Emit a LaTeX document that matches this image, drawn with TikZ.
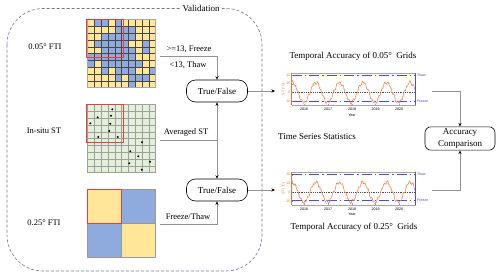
\documentclass[tikz,border=0pt]{standalone}
\usepackage{fontspec}
\setmainfont{Liberation Serif}
\newfontfamily\chartfont{Liberation Sans}
\usepackage{xcolor}
\usepackage{tikz}
\usetikzlibrary{arrows.meta,calc}
\definecolor{ftic0}{HTML}{FFE699}
\definecolor{ftic1}{HTML}{8FAADC}
\definecolor{stgreen}{HTML}{E2F0D9}
\definecolor{boxred}{HTML}{EE3B3B}
\definecolor{framegray}{HTML}{6B7A99}
\definecolor{tsorange}{HTML}{E8743B}
\definecolor{tsblue}{HTML}{4A4AF0}

\begin{document}
\begin{tikzpicture}[x=1pt,y=-1pt,>=Stealth,line join=round,
  font=\fontsize{9}{10}\selectfont,
  tfbox/.style={draw,rounded corners=9pt,minimum width=61pt,minimum height=22pt,inner sep=1pt,line width=0.6pt},
  conn/.style={draw=gray!85,line width=0.6pt,-{Stealth[length=3.5pt,width=3pt,color=black]}},
  lbl/.style={font=\fontsize{8.5}{10}\selectfont},
  tick/.style={font=\chartfont\fontsize{3.6}{4}\selectfont,inner sep=0.5pt},
  refline/.style={tsblue,line width=0.5pt,dash pattern=on 10pt off 3pt on 1.5pt off 3pt}]
  \useasboundingbox (0,0) rectangle (500,277);
  \draw[framegray,line width=0.6pt,dash pattern=on 3pt off 2pt,rounded corners=36pt] (7,8.5) rectangle (262,271);
  \node[fill=white,inner sep=2pt] (VAL) at (201,8.5) {Validation};
  \foreach \row [count=\r from 0] in {{0,1,1,0,1,0,0,0,0,0},{0,0,0,0,1,1,1,0,0,0},{0,0,1,1,1,1,1,0,0,0},{0,1,1,1,1,1,0,0,1,0},{0,0,1,1,1,1,1,0,1,0},{1,1,1,1,1,1,1,0,0,0},{1,0,1,1,1,1,1,1,0,0},{0,0,1,0,1,1,1,0,0,1},{0,0,0,0,1,0,1,1,1,0},{0,0,0,0,0,0,1,0,0,0}}
    \foreach \v [count=\k from 0] in \row
      \fill[ftic\v] (87.5+\k*6.8,19.5+\r*6.8) rectangle ++(6.8,6.8);
  \foreach \i in {0,...,10}
    \draw[gray!55!black,line width=0.35pt] (87.5+\i*6.8,19.5) -- ++(0,68) (87.5,19.5+\i*6.8) -- ++(68,0);
  \draw[gray!70,line width=0.6pt] (87.5,19.5) rectangle ++(68,68);
  \draw[boxred,line width=0.9pt] (86.5,19) rectangle (123,57);
  \fill[stgreen] (87.5,104.5) rectangle ++(68,68);
  \foreach \i in {0,...,10}
    \draw[gray!75,line width=0.4pt] (87.5+\i*6.8,104.5) -- ++(0,68) (87.5,104.5+\i*6.8) -- ++(68,0);
  \foreach \p in {(112.3,109.3),(111,115.7),(97.7,117.3),(90.3,123.3),(110.3,123.7),(109.3,131),(98.3,137),(117.7,137),(142,142.3),(130.3,151.3),(138.3,156.3),(150,161.7),(129.3,163.3),(141.7,169.7)}
    \fill \p circle (1.1pt);
  \draw[boxred,line width=0.9pt] (86.5,104) rectangle (123,142);
  \fill[ftic0] (87.5,189.5) rectangle ++(34,34);
  \fill[ftic1] (121.5,189.5) rectangle ++(34,34);
  \fill[ftic1] (87.5,223.5) rectangle ++(34,34);
  \fill[ftic0] (121.5,223.5) rectangle ++(34,34);
  \draw[gray!80,line width=0.6pt] (87.5,189.5) rectangle ++(68,68) (121.5,189.5) -- ++(0,68) (87.5,223.5) -- ++(68,0);
  \draw[boxred,line width=0.9pt] (87.5,189.5) rectangle ++(34,34);
  \node[lbl] (L1) at (45,47) {0.05° FTI};
  \node[lbl] (L2) at (44,131) {In-situ ST};
  \node[lbl] (L3) at (44,223) {0.25° FTI};
  \node[tfbox] (TF1) at (217,91) {True/False};
  \node[tfbox] (TF2) at (217,190) {True/False};
  \coordinate (G1) at (160,56);
  \coordinate (G2) at (160,140);
  \coordinate (G3) at (160,224);
  \draw[conn] (G1) -| (TF1.north);
  \draw[conn] (G2) -| (TF1.south);
  \draw[conn] (G2) -| (TF2.north);
  \draw[conn] (G3) -| (TF2.south);
  \node[lbl] (T1) at (189,49) {>=13, Freeze};
  \node[lbl] (T2) at (188,65) {<13, Thaw};
  \node[lbl] (T3) at (186,132) {Averaged ST};
  \node[lbl] (T4) at (188,217) {Freeze/Thaw};
  \foreach \oy/\ph [count=\n] in {0/0,99.7/47} {
    \begin{scope}[shift={(0,\oy)}]
      \draw[gray!70,line width=0.3pt] (291.5,72.7) -- (415.5,72.7) (291.5,105) -- (415.5,105);
      \draw[tsorange,line width=0.3pt] (291.5,72.7) -- (291.5,105);
      \draw[tsblue,line width=0.3pt] (415.5,72.7) -- (415.5,105);
      \draw[refline] (291.5,75) -- (415.5,75);
      \draw[refline] (291.5,101) -- (415.5,101);
      \draw[gray!60!black,line width=0.3pt,dash pattern=on 0.6pt off 1.2pt] (291.5,92.5) -- (415.5,92.5);
      \draw[tsorange!45] plot[only marks,mark=*,mark size=0.25pt,domain=0:123,samples=130] (291.5+\x,{92.5+0.867*(11.5*cos(15.254*(\x-12.5))-2.3*sin(89*\x+\ph))});
      \draw[tsorange,line width=0.45pt] plot[domain=0.3:123.5,samples=230] (291.5+\x,{92.5+0.867*(11.5*cos(15.254*(\x-12.5))-1.4*sin(113*\x+\ph)-0.9*sin(71*\x+2*\ph))});
      \foreach \ty/\tl [count=\m] in {75/20,83.7/10,92.5/0,101.2/-10} {
        \draw[tsorange,line width=0.3pt] (291.5,\ty) -- ++(1.5,0);
        \node[tick,tsorange,anchor=east] (YL\n\m) at (291,\ty) {\tl};
      }
      \foreach \xx/\yr [count=\m] in {304/2016,328/2017,352/2018,375.5/2019,399/2020} {
        \draw[gray!70,line width=0.3pt] (\xx,105) -- ++(0,-1.5);
        \node[tick] (XL\n\m) at (\xx,109.5) {\yr};
      }
      \node[tick,tsorange,rotate=90] (YT\n) at (283.5,89) {ST (°C)};
      \node[tick,tsblue,anchor=west] (TH\n) at (416.3,75) {Thaw};
      \node[tick,tsblue,anchor=west] (FR\n) at (416.3,101) {Freeze};
      \node[tick] (XT\n) at (352,115) {Year};
    \end{scope}
  }
  \coordinate (CH1) at (275,91);
  \coordinate (CH2) at (275,190);
  \draw[conn] (TF1.east) -- (CH1);
  \draw[conn] (TF2.east) -- (CH2);
  \node (TT1) at (353,56) {Temporal Accuracy of 0.05°~ Grids};
  \node (TT2) at (354,227.7) {Temporal Accuracy of 0.25°~ Grids};
  \node (TS) at (317,137) {Time Series Statistics};
  \node[draw,rounded corners=6pt,align=center,inner sep=2pt,minimum width=70pt,minimum height=23pt,line width=0.6pt,font=\fontsize{9}{11.5}\selectfont] (AC) at (460,138.5) {Accuracy\\Comparison};
  \coordinate (CO1) at (432,91);
  \coordinate (CO2) at (432,190.5);
  \draw[conn] (CO1) -| (AC.north);
  \draw[conn] (CO2) -| (AC.south);
\end{tikzpicture}
\end{document}
